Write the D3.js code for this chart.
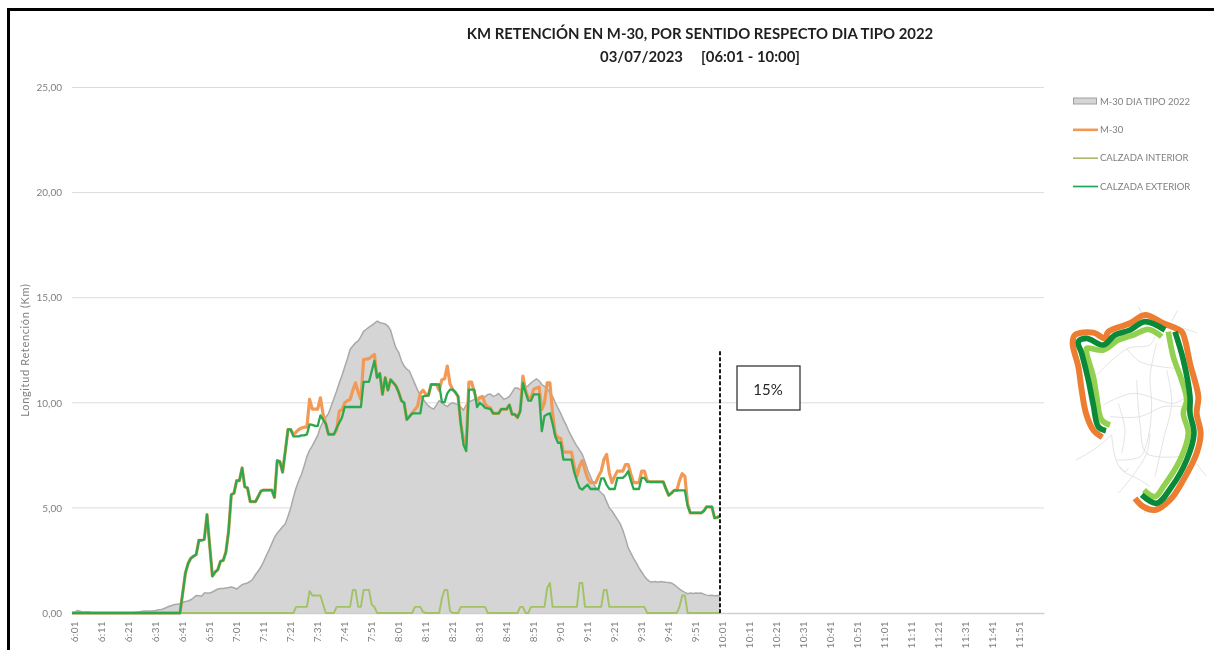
<!DOCTYPE html>
<html>
<head>
<meta charset="utf-8">
<script src="https://d3js.org/d3.v7.min.js"></script>
<style>
	html, body { margin: 0; padding: 0; background: #fff; overflow: hidden; }
	svg { display: block; font-family: Lato, "Open Sans", sans-serif; filter: blur(0.45px); }
</style>
</head>
<body>
<div id="chart"></div>
<script>
// one value per minute, 6:01 (index 0) to 10:01 (index 240), ten to a row
const diaTipo = [
	0, 0.03, 0.12, 0.08, 0.04, 0.05, 0.06, 0.02, 0, 0,
	0, 0, 0, 0, 0, 0, 0, 0, 0, 0.01,
	0, 0, 0, 0.02, 0.04, 0.06, 0.08, 0.1, 0.1, 0.09,
	0.1, 0.12, 0.16, 0.17, 0.2, 0.26, 0.32, 0.36, 0.4, 0.42,
	0.44, 0.5, 0.55, 0.57, 0.63, 0.72, 0.83, 0.82, 0.8, 0.95,
	0.95, 0.95, 1.0, 1.07, 1.14, 1.16, 1.17, 1.19, 1.21, 1.24,
	1.2, 1.14, 1.25, 1.35, 1.39, 1.43, 1.5, 1.62, 1.83, 2.0,
	2.2, 2.45, 2.75, 3.0, 3.3, 3.6, 3.8, 3.95, 4.1, 4.25,
	4.6, 5.0, 5.5, 5.95, 6.3, 6.6, 7.0, 7.45, 7.75, 7.95,
	8.2, 8.45, 8.85, 9.1, 9.3, 9.5, 9.85, 10.2, 10.55, 10.95,
	11.3, 11.7, 12.1, 12.54, 12.7, 12.85, 12.95, 13.15, 13.4, 13.5,
	13.6, 13.68, 13.78, 13.89, 13.82, 13.78, 13.75, 13.65, 13.45, 13.0,
	12.6, 12.4, 12.0, 11.75, 11.6, 11.5, 11.2, 10.9, 10.6, 10.35,
	10.2, 10.0, 9.85, 9.76, 9.7, 9.9, 10.1, 10.0, 9.9, 9.82,
	9.95, 10, 9.95, 9.9, 9.8, 9.65, 9.9, 10.05, 10.1, 10.16,
	10.18, 10.2, 10.24, 10.3, 10.4, 10.42, 10.3, 10.35, 10.44, 10.3,
	10.16, 10.22, 10.3, 10.5, 10.7, 10.7, 10.62, 10.65, 10.75, 10.82,
	10.95, 11.05, 11.14, 11.05, 10.87, 10.78, 10.68, 10.48, 10.3, 10.0,
	9.75, 9.5, 9.2, 8.95, 8.65, 8.4, 8.15, 7.94, 7.75, 7.55,
	7.2, 6.8, 6.5, 6.2, 5.95, 5.85, 5.72, 5.6, 5.3, 5.0,
	4.85, 4.65, 4.45, 4.25, 3.95, 3.55, 3.1, 2.85, 2.6, 2.38,
	2.15, 1.95, 1.75, 1.6, 1.5, 1.48, 1.5, 1.46, 1.5, 1.48,
	1.46, 1.45, 1.43, 1.35, 1.25, 1.14, 1.05, 0.98, 0.92, 0.95,
	0.93, 0.95, 0.94, 0.95, 0.9, 0.85, 0.83, 0.84, 0.82, 0.83,
	0.82,
];

const m30 = [
	0, 0, 0, 0, 0, 0, 0, 0, 0, 0,
	0, 0, 0, 0, 0, 0, 0, 0, 0, 0,
	0, 0, 0, 0, 0, 0, 0, 0, 0, 0,
	0, 0, 0, 0, 0, 0, 0, 0, 0, 0,
	0, 0.95, 1.9, 2.35, 2.6, 2.7, 2.78, 3.46, 3.46, 3.5,
	4.68, 3.2, 1.75, 1.95, 2.06, 2.46, 2.5, 2.9, 3.9, 5.63,
	5.7, 6.3, 6.3, 6.9, 6.0, 5.95, 5.3, 5.3, 5.3, 5.55,
	5.8, 5.85, 5.85, 5.85, 5.85, 5.5, 7.25, 7.2, 6.7, 7.7,
	8.73, 8.73, 8.5, 8.6, 8.73, 8.8, 8.84, 8.84, 10.16, 9.7,
	9.7, 9.7, 10.24, 9.44, 9.0, 8.5, 8.5, 8.5, 8.7, 9.6,
	9.68, 10.0, 10.1, 10.16, 10.6, 10.95, 10.5, 10.16, 12.06, 12.08,
	12.1, 12.2, 12.3, 11.2, 11.4, 10.4, 11.2, 10.6, 11.1, 10.95,
	10.8, 10.5, 10.1, 10, 9.2, 9.35, 9.5, 9.68, 9.84, 10.45,
	10.6, 10.42, 10.35, 10.87, 10.87, 10.87, 10.6, 11.1, 11.14, 11.75,
	10.9, 10.63, 10.5, 10.3, 9.0, 8.25, 8.0, 10.98, 10.98, 10.5,
	10.08, 10.25, 10.3, 9.95, 9.8, 9.76, 9.5, 9.5, 9.5, 9.7,
	9.7, 9.7, 9.9, 9.45, 9.45, 9.3, 9.6, 11.27, 10.6, 10.24,
	10.24, 10.65, 10.7, 10.76, 9.68, 10.0, 10.95, 10.95, 9.5, 8.5,
	8.35, 8.3, 7.65, 7.65, 7.65, 7.65, 7.0, 6.5, 7.0, 7.25,
	6.8, 6.4, 6.2, 6.2, 6.2, 6.5, 6.75, 7.3, 7.54, 6.67,
	6.2, 6.5, 6.75, 6.75, 6.75, 7.06, 7.06, 6.6, 6.2, 6.2,
	6.2, 6.75, 6.75, 6.3, 6.24, 6.24, 6.24, 6.24, 6.24, 6.24,
	5.9, 5.6, 5.7, 5.83, 5.83, 6.3, 6.63, 6.5, 5.2, 4.76,
	4.76, 4.76, 4.76, 4.76, 4.85, 5.05, 5.05, 5.05, 4.52, 4.55,
	4.6,
];

const calzadaInterior = [
	0, 0, 0, 0, 0, 0, 0, 0, 0, 0,
	0, 0, 0, 0, 0, 0, 0, 0, 0, 0,
	0, 0, 0, 0, 0, 0, 0, 0, 0, 0,
	0, 0, 0, 0, 0, 0, 0, 0, 0, 0,
	0, 0, 0, 0, 0, 0, 0, 0, 0, 0,
	0, 0, 0, 0, 0, 0, 0, 0, 0, 0,
	0, 0, 0, 0, 0, 0, 0, 0, 0, 0,
	0, 0, 0, 0, 0, 0, 0, 0, 0, 0,
	0, 0, 0, 0.29, 0.29, 0.29, 0.29, 0.29, 1.05, 0.83,
	0.83, 0.83, 0.83, 0.4, 0, 0, 0, 0, 0.29, 0.29,
	0.29, 0.29, 0.29, 0.29, 1.1, 1.1, 0.29, 0.29, 1.1, 1.1,
	1.1, 0.4, 0.29, 0, 0, 0, 0, 0, 0, 0,
	0, 0, 0, 0, 0, 0, 0, 0.29, 0.29, 0.29,
	0.05, 0, 0, 0, 0, 0, 0, 0.7, 1.1, 1.1,
	0.1, 0, 0, 0, 0.29, 0.29, 0.29, 0.29, 0.29, 0.29,
	0.29, 0.29, 0.29, 0.29, 0, 0, 0, 0, 0, 0,
	0, 0, 0, 0, 0, 0, 0.29, 0.29, 0, 0,
	0.29, 0.29, 0.29, 0.29, 0.29, 0.29, 1.2, 1.43, 0.29, 0.29,
	0.29, 0.29, 0.29, 0.29, 0.29, 0.29, 0.29, 0.29, 1.43, 1.43,
	0.29, 0.29, 0.29, 0.29, 0.29, 0.29, 0.29, 1.1, 1.1, 0.29,
	0.29, 0.29, 0.29, 0.29, 0.29, 0.29, 0.29, 0.29, 0.29, 0.29,
	0.29, 0.29, 0.29, 0, 0, 0, 0, 0, 0, 0,
	0, 0, 0, 0, 0, 0.3, 0.83, 0.83, 0, 0,
	0, 0, 0, 0, 0, 0, 0, 0, 0, 0,
	0,
];

const calzadaExterior = [
	0, 0, 0, 0, 0, 0, 0, 0, 0, 0,
	0, 0, 0, 0, 0, 0, 0, 0, 0, 0,
	0, 0, 0, 0, 0, 0, 0, 0, 0, 0,
	0, 0, 0, 0, 0, 0, 0, 0, 0, 0,
	0, 0.95, 1.9, 2.35, 2.6, 2.7, 2.78, 3.46, 3.46, 3.5,
	4.68, 3.2, 1.75, 1.95, 2.06, 2.46, 2.5, 2.9, 3.9, 5.63,
	5.7, 6.3, 6.3, 6.9, 6.0, 5.95, 5.3, 5.3, 5.3, 5.55,
	5.8, 5.85, 5.85, 5.85, 5.85, 5.5, 7.25, 7.2, 6.7, 7.7,
	8.73, 8.73, 8.4, 8.4, 8.4, 8.45, 8.45, 8.5, 8.97, 8.95,
	8.9, 8.9, 9.4, 9.2, 9.0, 8.5, 8.5, 8.5, 8.8, 9.05,
	9.3, 9.8, 9.8, 9.8, 9.8, 9.8, 9.8, 9.8, 11, 11,
	11, 11.5, 12, 11.2, 11.4, 10.4, 11.2, 10.6, 11.1, 10.95,
	10.8, 10.5, 10.1, 10, 9.2, 9.35, 9.5, 9.5, 9.5, 9.5,
	10.3, 10.33, 10.35, 10.87, 10.87, 10.87, 10.87, 10.03, 10.03, 10.45,
	10.63, 10.63, 10.5, 10.3, 9.0, 8.0, 7.7, 10.63, 10.63, 10.63,
	9.8, 10, 9.9, 9.76, 9.73, 9.7, 9.5, 9.5, 9.5, 9.7,
	9.7, 9.7, 9.9, 9.45, 9.45, 9.3, 9.6, 10.95, 10.5, 10.1,
	10.1, 10.4, 10.4, 10.4, 8.65, 9.37, 9.45, 9.5, 9.0, 8.4,
	8.1, 8.1, 7.3, 7.3, 7.3, 7.3, 6.7, 6.3, 5.95, 5.87,
	6.0, 6.1, 5.9, 5.9, 5.9, 5.9, 6.4, 6.4, 6.1, 5.9,
	5.9, 5.9, 6.43, 6.43, 6.43, 6.55, 6.75, 6.3, 5.9, 5.9,
	5.9, 6.43, 6.43, 6.24, 6.24, 6.24, 6.24, 6.24, 6.24, 6.24,
	5.9, 5.6, 5.7, 5.83, 5.83, 5.83, 5.83, 5.83, 5.1, 4.76,
	4.76, 4.76, 4.76, 4.76, 4.85, 5.05, 5.05, 5.05, 4.52, 4.55,
	4.6,
];

const xTickLabels = [
	"6:01", "6:11", "6:21", "6:31", "6:41", "6:51",
	"7:01", "7:11", "7:21", "7:31", "7:41", "7:51",
	"8:01", "8:11", "8:21", "8:31", "8:41", "8:51",
	"9:01", "9:11", "9:21", "9:31", "9:41", "9:51",
	"10:01", "10:11", "10:21", "10:31", "10:41", "10:51",
	"11:01", "11:11", "11:21", "11:31", "11:41", "11:51",
];
const yTicks = [0, 5, 10, 15, 20, 25];
const legendLabels = ["M-30 DIA TIPO 2022", "M-30", "CALZADA INTERIOR", "CALZADA EXTERIOR"];

// the M-30 ring drawn on the small map, in map units
const mapOuter = [[187, 442], [160, 420], [138, 370], [125, 300], [115, 230], [98, 160], [105, 135], [160, 128], [195, 145], [205, 125], [270, 100], [315, 75], [370, 100], [425, 125], [435, 150], [450, 220], [475, 320], [470, 370], [482, 430], [470, 490], [430, 570], [390, 630], [345, 660], [310, 650], [285, 625]];
const mapExtA = [[198, 422], [175, 410], [160, 345], [145, 270], [125, 190], [115, 155], [140, 145], [190, 165], [225, 135], [270, 120], [315, 95], [375, 120]];
const mapExtB = [[405, 125], [430, 210], [450, 320], [450, 370], [462, 430], [440, 510], [395, 590], [350, 640], [305, 615]];
const mapIntA = [[210, 405], [185, 390], [170, 320], [160, 260], [140, 190], [140, 175], [190, 180], [235, 150], [280, 135], [325, 118], [365, 140]];
const mapIntB = [[385, 125], [400, 200], [425, 270], [440, 330], [430, 370], [445, 430], [420, 510], [370, 590], [345, 620], [312, 600]];
const mapRoads = [
	[[108, 510], [160, 480], [215, 435]],
	[[215, 435], [225, 500], [245, 540], [300, 570], [330, 590]],
	[[235, 610], [280, 555], [320, 490], [330, 430]],
	[[295, 50], [310, 75]], [[395, 95], [412, 62]], [[430, 115], [470, 128]],
	[[465, 515], [498, 558]], [[315, 655], [315, 670]],
	[[170, 255], [200, 225], [265, 175], [330, 165], [345, 140]],
	[[190, 345], [280, 310], [400, 340], [440, 320]],
	[[210, 380], [300, 380], [370, 350], [430, 350]],
	[[290, 270], [300, 400], [320, 490], [420, 500]],
	[[350, 160], [330, 260], [335, 340], [325, 440], [300, 500], [230, 510]],
	[[260, 175], [300, 215], [405, 235]],
	[[235, 340], [255, 420], [245, 490]],
	[[380, 240], [395, 340], [370, 450], [345, 560]],
	[[240, 530], [255, 545], [265, 535]],
];

const width = 1214;
const height = 650;
const plotLeft = 72;
const plotRight = 1044;
const plotTop = 87.5;
const plotBottom = 613;

const svg = d3
	.select("#chart")
	.append("svg")
	.attr("width", width)
	.attr("height", height);

// black frame of the pasted slide
svg.append("path")
	.attr("d", "M8.5,650V9.5H1214")
	.attr("fill", "none")
	.attr("stroke", "#000")
	.attr("stroke-width", 3);

const xScale = d3.scaleLinear().domain([0, 360]).range([plotLeft, plotRight]);
const yScale = d3.scaleLinear().domain([0, 25]).range([plotBottom, plotTop]);

// gridlines
svg.append("g")
	.selectAll("line")
	.data(yTicks.filter((d) => d > 0))
	.enter()
	.append("line")
	.attr("x1", plotLeft)
	.attr("x2", plotRight)
	.attr("y1", (d) => yScale(d))
	.attr("y2", (d) => yScale(d))
	.attr("stroke", "#dcdcdc");

const yAxis = d3
	.axisLeft(yScale)
	.tickValues(yTicks)
	.tickSize(0)
	.tickPadding(10)
	.tickFormat((d) => d3.format(".2f")(d).replace(".", ","));

svg.append("g")
	.attr("transform", "translate(" + plotLeft + ",0)")
	.call(yAxis)
	.call((g) => g.select(".domain").remove())
	.selectAll("text")
	.attr("font-family", "Lato")
	.attr("font-size", 10)
	.attr("fill", "#7f7f7f");

const area = d3
	.area()
	.x((d, i) => xScale(i))
	.y0(yScale(0))
	.y1((d) => yScale(d));

const line = d3
	.line()
	.x((d, i) => xScale(i))
	.y((d) => yScale(d));

svg.append("path").attr("d", area(diaTipo)).attr("fill", "#d5d5d5");
svg.append("path")
	.attr("d", line(diaTipo))
	.attr("fill", "none")
	.attr("stroke", "#a9a9a9")
	.attr("stroke-width", 1.5);

// x axis goes over the area
const xAxis = d3
	.axisBottom(xScale)
	.tickValues(xTickLabels.map((d, i) => i * 10))
	.tickSize(0)
	.tickFormat((d) => xTickLabels[d / 10]);

svg.append("g")
	.attr("transform", "translate(0," + plotBottom + ")")
	.call(xAxis)
	.call((g) => g.select(".domain").attr("stroke", "#cfcfcf").attr("stroke-width", 1.3))
	.selectAll("text")
	.attr("font-family", "Lato")
	.attr("font-size", 10)
	.attr("letter-spacing", 0.35)
	.attr("fill", "#7f7f7f")
	.attr("text-anchor", "end")
	.attr("transform", "rotate(-90)")
	.attr("dx", "-8")
	.attr("dy", "0.35em")
	.attr("x", 0)
	.attr("y", 2);

const seriesLines = [
	{ values: m30, color: "#f29a55", width: 3.2 },
	{ values: calzadaInterior, color: "#a3c165", width: 1.9 },
	{ values: calzadaExterior, color: "#2ea84f", width: 2.3 },
];

svg.append("g")
	.selectAll("path")
	.data(seriesLines)
	.enter()
	.append("path")
	.attr("d", (d) => line(d.values))
	.attr("fill", "none")
	.attr("stroke", (d) => d.color)
	.attr("stroke-width", (d) => d.width)
	.attr("stroke-linejoin", "round");

// marker at the end of the window
svg.append("line")
	.attr("x1", xScale(240))
	.attr("x2", xScale(240))
	.attr("y1", yScale(12.45))
	.attr("y2", yScale(0))
	.attr("stroke", "#000")
	.attr("stroke-width", 1.8)
	.attr("stroke-dasharray", "4,2");

svg.append("rect")
	.attr("x", 737)
	.attr("y", 366)
	.attr("width", 63)
	.attr("height", 44)
	.attr("fill", "#fff")
	.attr("stroke", "#262626")
	.attr("stroke-width", 1.2);

svg.append("text")
	.attr("x", 768)
	.attr("y", 395)
	.attr("text-anchor", "middle")
	.attr("font-size", 15)
	.attr("fill", "#262626")
	.text("15%");

// titles
svg.append("text")
	.attr("x", 700)
	.attr("y", 38.5)
	.attr("text-anchor", "middle")
	.attr("font-size", 14.9)
	.attr("font-weight", 700)
	.attr("fill", "#1f1f1f")
	.text("KM RETENCIÓN EN M-30, POR SENTIDO RESPECTO DIA TIPO 2022");

svg.append("text")
	.attr("x", 700)
	.attr("y", 62)
	.attr("text-anchor", "middle")
	.attr("font-size", 14.9)
	.attr("font-weight", 700)
	.attr("fill", "#1f1f1f")
	.attr("xml:space", "preserve")
	.style("white-space", "pre")
	.text("03/07/2023     [06:01 - 10:00]");

svg.append("text")
	.attr("transform", "translate(29,350) rotate(-90)")
	.attr("text-anchor", "middle")
	.attr("font-size", 11)
	.attr("letter-spacing", 0.65)
	.attr("fill", "#7f7f7f")
	.text("Longitud Retención (Km)");

// legend
const legendY = d3.scalePoint().domain(legendLabels).range([101, 186]);

svg.append("rect")
	.attr("x", 1073.5)
	.attr("y", legendY(legendLabels[0]) - 3)
	.attr("width", 23)
	.attr("height", 6)
	.attr("fill", "#d5d5d5")
	.attr("stroke", "#a0a0a0");

const legendLines = [
	{ label: legendLabels[1], color: "#f29a55", width: 2.6 },
	{ label: legendLabels[2], color: "#a3b565", width: 1.5 },
	{ label: legendLabels[3], color: "#1fa55f", width: 1.7 },
];

svg.append("g")
	.selectAll("line")
	.data(legendLines)
	.enter()
	.append("line")
	.attr("x1", 1073)
	.attr("x2", 1098)
	.attr("y1", (d) => legendY(d.label) + 0.5)
	.attr("y2", (d) => legendY(d.label) + 0.5)
	.attr("stroke", (d) => d.color)
	.attr("stroke-width", (d) => d.width);

svg.append("g")
	.selectAll("text")
	.data(legendLabels)
	.enter()
	.append("text")
	.attr("x", 1100)
	.attr("y", (d) => legendY(d) + 3.5)
	.attr("font-size", 9.5)
	.attr("fill", "#7f7f7f")
	.text((d) => d);

// small map of the ring, from a crop scaled 3x
const map = svg.append("g").attr("transform", "translate(1040,290) scale(0.3333)");
const mapLine = d3.line().curve(d3.curveCatmullRom.alpha(0.5));

map.append("g")
	.selectAll("path")
	.data(mapRoads)
	.enter()
	.append("path")
	.attr("d", (d) => mapLine(d))
	.attr("fill", "none")
	.attr("stroke", "#d4d4d4")
	.attr("stroke-width", 2);

const mapRings = [
	{ points: mapOuter, color: "#ed7d31", width: 18 },
	{ points: mapIntA, color: "#92d050", width: 17 },
	{ points: mapIntB, color: "#92d050", width: 17 },
	{ points: mapExtA, color: "#0a8a38", width: 17 },
	{ points: mapExtB, color: "#0a8a38", width: 17 },
];

map.append("g")
	.selectAll("path")
	.data(mapRings)
	.enter()
	.append("path")
	.attr("d", (d) => mapLine(d.points))
	.attr("fill", "none")
	.attr("stroke", (d) => d.color)
	.attr("stroke-width", (d) => d.width);
</script>
</body>
</html>
